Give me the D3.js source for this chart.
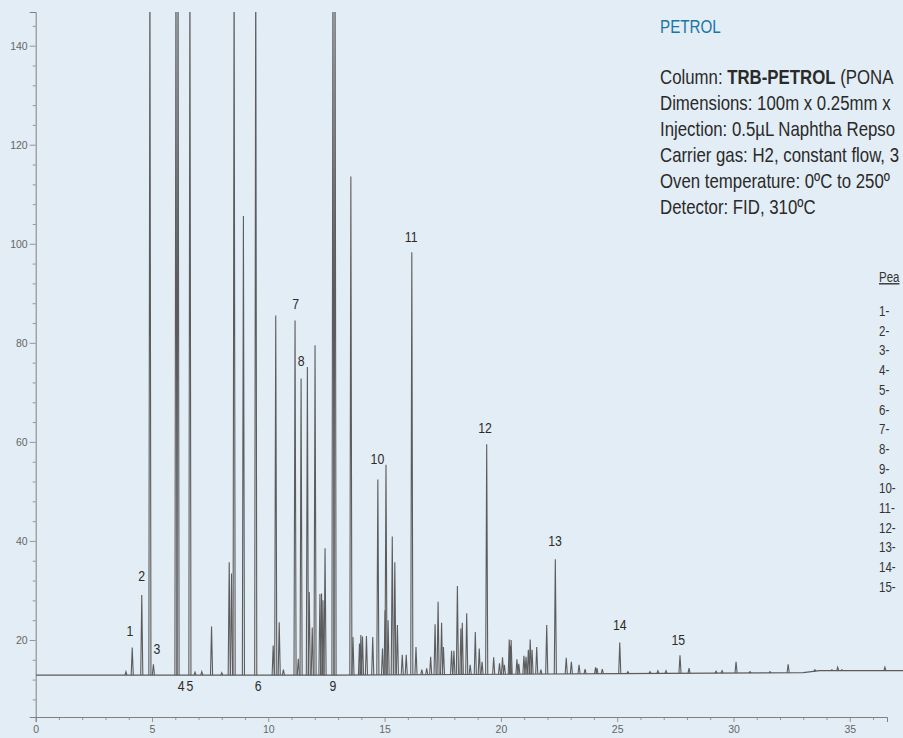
<!DOCTYPE html>
<html><head><meta charset="utf-8">
<script src="https://cdn.jsdelivr.net/npm/d3@7"></script>
<style>
html,body{margin:0;padding:0;background:#e3edf5;}
svg{display:block;}
</style></head><body>
<svg id="chart" width="903" height="738"></svg>
<script>
// ---- data (retention time in min, detector response) ----
const peakTimes = [3.88,4.15,4.56,4.91,5.06,6.03,6.12,6.63,6.85,7.14,7.56,8.00,8.32,8.42,8.53,8.93,9.46,
  10.21,10.32,10.47,10.65,11.15,11.29,11.41,11.68,11.76,11.89,12.01,12.22,12.29,12.35,12.44,12.78,12.87,
  13.55,13.64,13.92,13.98,14.05,14.22,14.49,14.71,14.91,15.02,15.06,15.15,15.33,15.44,15.55,15.76,15.93,
  16.17,16.35,16.60,16.81,16.98,17.17,17.30,17.45,17.53,17.88,17.98,18.13,18.28,18.34,18.53,18.68,18.90,
  19.07,19.19,19.39,19.69,19.94,20.07,20.15,20.36,20.41,20.44,20.69,20.77,20.99,21.08,21.18,21.26,21.34,
  21.54,21.72,21.97,22.34,22.81,23.03,23.36,23.62,24.07,24.13,24.36,25.11,25.46,26.41,26.75,27.10,27.70,
  28.09,29.25,29.51,30.11,30.71,31.57,32.35,33.50,34.23,34.48,34.66,36.51];
const peakHeights = [13.6,18.5,29.1,160,15.1,160,160,160,13.5,13.6,22.7,13.4,35.7,33.4,160,105.6,160,
  18.9,85.5,23.6,14.0,84.5,16.2,72.8,75.1,29.7,22.5,79.5,29.3,29.4,28.0,38.5,160,160,
  113.6,20.6,19.3,21.0,20.7,20.8,20.6,52.4,18.3,26.0,55.4,24.0,40.9,35.7,23.0,17.0,17.0,
  98.3,18.6,14.0,14.3,16.6,23.2,27.7,23.5,18.6,17.8,17.8,30.9,22.3,23.5,25.4,15.0,21.6,
  18.3,15.6,59.5,16.5,15.3,16.5,15.0,20.1,18.8,20.0,16.1,15.2,16.8,16.6,18.0,20.1,18.0,
  18.6,14.0,23.0,36.3,16.4,15.6,15.0,14.1,14.5,14.3,14.1,19.5,13.6,13.6,13.8,13.8,16.9,
  14.3,13.7,13.8,15.6,13.6,13.6,15.1,14.0,14.0,14.5,14.0,14.5];
const baselineTimes  = [0, 13, 25, 33.0, 33.7, 37.3];
const baselineValues = [12.9, 12.9, 13.2, 13.4, 13.8, 13.8];

const idNumbers     = ["1","2","3","4","5","6","7","8","9","10","11","12","13","14","15"];
const idLabelTimes  = [4.05,4.56,5.21,6.25,6.63,9.56,11.18,11.41,12.78,14.69,16.14,19.32,22.33,25.11,27.63];
const idLabelValues = [21.8,33.1,18.3,10.7,10.7,10.7,88.0,76.4,10.7,56.7,101.4,62.9,40.0,23.1,20.1];

const xMajorTicks = [0,5,10,15,20,25,30,35];
const xMinorTicks = d3.range(0,37,1).filter(v => v % 5 !== 0);
const yMajorTicks = [20,40,60,80,100,120,140];
const yMinorTicks = d3.range(8,145,4).filter(v => v % 20 !== 0);

const titleText = "PETROL";
const methodLines = [
  [["Column: ",false],["TRB-PETROL",true],[" (PONA",false]],
  [["Dimensions: 100m x 0.25mm x",false]],
  [["Injection: 0.5µL Naphtha Repso",false]],
  [["Carrier gas: H2, constant flow, 3",false]],
  [["Oven temperature: 0ºC to 250º",false]],
  [["Detector: FID, 310ºC",false]]
];
const peakListHeader = "Pea";
const peakListItems = idNumbers.map(n => n + "-");

// ---- drawing ----
const svg = d3.select("#chart");
const W = 903, H = 738;
const x = d3.scaleLinear().domain([0, 36.6]).range([35.7, 887]);
const y = d3.scaleLinear().domain([4.45, 146.8]).range([717, 12]);
const lineColor = "#5c5c5c";
const axisColor = "#808080";
const sans = "'Liberation Sans',Arial,sans-serif";
const squeeze = 0.82;

svg.append("rect").attr("width", W).attr("height", H).attr("fill", "#e3edf5");

svg.append("defs").append("clipPath").attr("id","plotclip")
  .append("rect").attr("x", 36).attr("y", y.range()[1]).attr("width", W - 36).attr("height", y.range()[0] - y.range()[1]);

// axes
const yAxisG = svg.append("g").attr("transform", `translate(${x(0)},0)`);
yAxisG.call(d3.axisLeft(y).tickValues(yMajorTicks).tickSize(6).tickPadding(2));
const yMinorG = svg.append("g").attr("transform", `translate(${x(0)},0)`);
yMinorG.call(d3.axisLeft(y).tickValues(yMinorTicks).tickSize(3).tickFormat(""));
yMinorG.select(".domain").remove();

const xAxisG = svg.append("g").attr("transform", `translate(0,${y.range()[0]})`);
xAxisG.call(d3.axisBottom(x).tickValues(xMajorTicks).tickSize(5).tickPadding(4));
const xMinorG = svg.append("g").attr("transform", `translate(0,${y.range()[0]})`);
xMinorG.call(d3.axisBottom(x).tickValues(xMinorTicks).tickSize(3).tickFormat(""));
xMinorG.select(".domain").remove();

svg.selectAll(".domain").attr("stroke", axisColor).attr("stroke-width", 1);
svg.selectAll(".tick line").attr("stroke", axisColor).attr("stroke-width", 0.8);
svg.selectAll(".tick text").attr("fill", "#666").attr("font-size", 10.5).attr("font-family", sans);

// chromatogram
const plot = svg.append("g").attr("clip-path", "url(#plotclip)");
const baseAt = t => {
  const i = d3.bisectRight(baselineTimes, t) - 1;
  const j = Math.min(i + 1, baselineTimes.length - 1);
  if (i === j) return baselineValues[i];
  const f = (t - baselineTimes[i]) / (baselineTimes[j] - baselineTimes[i]);
  return baselineValues[i] + f * (baselineValues[j] - baselineValues[i]);
};
const line = d3.line().x(d => x(d[0])).y(d => y(d[1]));
plot.append("path")
  .attr("d", line(baselineTimes.map((t, i) => [t, baselineValues[i]])))
  .attr("fill", "none").attr("stroke", lineColor).attr("stroke-width", 1.2);

const hw = 0.045;
plot.selectAll("path.peak").data(peakTimes).enter().append("path")
  .attr("class", "peak")
  .attr("d", (t, i) => line([[t - hw, baseAt(t - hw)], [t, peakHeights[i]], [t + hw, baseAt(t + hw)]]))
  .attr("fill", "none").attr("stroke", lineColor).attr("stroke-width", 1.1);

// peak labels (condensed look)
svg.append("g").selectAll("text").data(idNumbers).enter().append("text")
  .attr("transform", (d, i) => `translate(${x(idLabelTimes[i])},${y(idLabelValues[i])}) scale(${squeeze},1)`)
  .attr("dy", "0.36em")
  .attr("text-anchor", "middle")
  .attr("font-family", sans).attr("font-size", 15).attr("fill", "#2b2b2b")
  .text(d => d);

// method text block
svg.append("text").attr("transform", `translate(660,33) scale(0.8,1)`)
  .attr("font-family", sans).attr("font-size", 19).attr("fill", "#1b76a2")
  .text(titleText);

const mg = svg.append("g").attr("font-family", sans).attr("font-size", 20.5).attr("fill", "#2a2a2a");
methodLines.forEach((parts, i) => {
  const t = mg.append("text").attr("transform", `translate(660,${84 + i * 26}) scale(${squeeze},1)`);
  parts.forEach(p => t.append("tspan").attr("font-weight", p[1] ? "bold" : "normal").text(p[0]));
});

// peak list
const pl = svg.append("g").attr("font-family", sans).attr("font-size", 14).attr("fill", "#333");
pl.append("text").attr("transform", `translate(879,282) scale(${squeeze},1)`)
  .attr("text-decoration", "underline").text(peakListHeader);
pl.selectAll("text.item").data(peakListItems).enter().append("text")
  .attr("class", "item")
  .attr("transform", (d, i) => `translate(879,${316 + i * 19.7}) scale(${squeeze},1)`)
  .text(d => d);
</script>
</body></html>
